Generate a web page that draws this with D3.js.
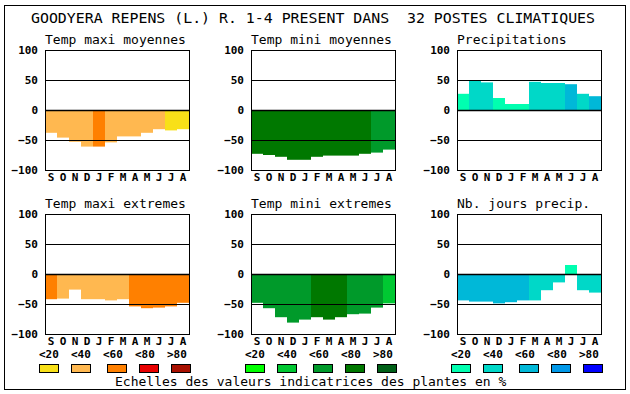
<!DOCTYPE html>
<html>
<head>
<meta charset="utf-8">
<script src="https://cdn.jsdelivr.net/npm/d3@7"></script>
<style>
  body { margin: 0; background: #fff; }
  svg text { font-family: "DejaVu Sans Mono", "Liberation Mono", monospace; fill: #000; }
  .tick text { font-size: 11px; font-weight: bold; }
</style>
</head>
<body>
<div id="chart"></div>
<script>
// month labels (Sept -> Aug)
const months = ['S','O','N','D','J','F','M','A','M','J','J','A'];
const titles = ['Temp maxi moyennes','Temp mini moyennes','Precipitations',
                'Temp maxi extremes','Temp mini extremes','Nb. jours precip.'];
const classLabels = ['<20','<40','<60','<80','>80'];

const tmaxMoy = [-38,-46,-53,-61,-61,-54,-44,-44,-38,-32,-34,-32];
const tmaxMoyCls = [1,1,1,1,2,1,1,1,1,1,0,0];
const tminMoy = [-73,-75,-78,-83,-83,-78,-76,-76,-76,-73,-71,-66];
const tminMoyCls = [3,3,3,3,3,3,3,3,3,3,2,2];
const precip = [27,49,46,20,10,10,47,45,45,43,27,23];
const precipCls = [0,1,1,0,0,0,1,1,1,2,1,2];
const tmaxExt = [-42,-41,-26,-42,-42,-44,-42,-54,-57,-56,-54,-48];
const tmaxExtCls = [2,1,1,1,1,1,1,2,2,2,2,2];
const tminExt = [-48,-57,-72,-81,-76,-72,-76,-72,-67,-66,-56,-49];
const tminExtCls = [2,2,2,2,2,3,3,3,2,2,2,1];
const nbJours = [-44,-46,-46,-49,-47,-44,-44,-27,-14,15,-27,-31];
const nbJoursCls = [2,2,2,2,2,2,1,1,1,0,1,1];

const orangeScale = ['#f8e018','#ffb850','#ff8000','#e80000','#a81000'];
const greenScale  = ['#00ff00','#00c832','#009a2a','#007800','#006018'];
const blueScale   = ['#00ffb0','#00d8c8','#00b8d8','#0098e8','#0000ff'];

const panels = [
  {vals: tmaxMoy, cls: tmaxMoyCls, pal: orangeScale},
  {vals: tminMoy, cls: tminMoyCls, pal: greenScale},
  {vals: precip,  cls: precipCls,  pal: blueScale},
  {vals: tmaxExt, cls: tmaxExtCls, pal: orangeScale},
  {vals: tminExt, cls: tminExtCls, pal: greenScale},
  {vals: nbJours, cls: nbJoursCls, pal: blueScale}
];

const W = 630, H = 394;
const colX = [45, 251, 457], rowY = [50, 214];
const pw = 144, ph = 120;

const svg = d3.select('#chart').append('svg')
  .attr('width', W).attr('height', H);

svg.append('rect')
  .attr('x', 4.5).attr('y', 5.5).attr('width', 621).attr('height', 384)
  .attr('fill', 'none').attr('stroke', '#000');

svg.append('text')
  .attr('x', 31).attr('y', 23)
  .attr('font-size', 14)
  .style('white-space', 'pre')
  .attr('textLength', 564).attr('lengthAdjust', 'spacingAndGlyphs')
  .text('GOODYERA REPENS (L.) R. 1-4 PRESENT DANS  32 POSTES CLIMATIQUES');

const x = d3.scaleBand().domain(d3.range(12)).range([0, pw]).padding(0);
const y = d3.scaleLinear().domain([-100, 100]).range([ph, 0]);

panels.forEach((p, k) => {
  const g = svg.append('g')
    .attr('transform', `translate(${colX[k % 3]},${rowY[Math.floor(k / 3)]})`);

  g.append('text')
    .attr('x', 0).attr('y', -6)
    .attr('font-size', 13)
    .text(titles[k]);

  g.selectAll('.bar')
    .data(p.vals)
    .enter()
    .append('rect')
    .attr('class', 'bar')
    .attr('x', (d, i) => x(i))
    .attr('width', x.bandwidth())
    .attr('y', d => y(Math.max(0, d)))
    .attr('height', d => Math.abs(y(d) - y(0)))
    .attr('fill', (d, i) => p.pal[p.cls[i]]);

  // grid lines drawn over the bars
  g.selectAll('.grid')
    .data([50, 0, -50])
    .enter()
    .append('line')
    .attr('x1', 0).attr('x2', pw)
    .attr('y1', d => Math.round(y(d)) + 0.5)
    .attr('y2', d => Math.round(y(d)) + 0.5)
    .attr('stroke', '#000')
    .attr('stroke-width', d => d === 0 ? 1.5 : 1);

  g.append('rect')
    .attr('x', 0.5).attr('y', 0.5).attr('width', pw).attr('height', ph)
    .attr('fill', 'none').attr('stroke', '#000');

  const ya = g.append('g')
    .call(d3.axisLeft(y).tickValues([-100, -50, 0, 50, 100]).tickSize(0).tickPadding(7));
  ya.select('.domain').remove();
  ya.selectAll('text').attr('dy', '0.36em');

  const xa = g.append('g')
    .attr('transform', `translate(0,${ph})`)
    .call(d3.axisBottom(x).tickFormat(i => months[i]).tickSize(0).tickPadding(3));
  xa.select('.domain').remove();
});

// legends under the bottom row
const legendPals = [orangeScale, greenScale, blueScale];
const boxOff = [0, 32, 68, 100, 132];
legendPals.forEach((pal, c) => {
  const x0 = colX[c] - 6;
  const lg = svg.append('g').attr('transform', `translate(${x0},0)`);
  lg.selectAll('.lab')
    .data(classLabels)
    .enter()
    .append('text')
    .attr('x', (d, i) => i * 32)
    .attr('y', 358)
    .attr('font-size', 11)
    .attr('font-weight', 'bold')
    .text(d => d);
  lg.selectAll('.box')
    .data(pal)
    .enter()
    .append('rect')
    .attr('x', (d, i) => boxOff[i] + 0.5)
    .attr('y', 364.5)
    .attr('width', 19).attr('height', 8)
    .attr('fill', d => d)
    .attr('stroke', '#000');
});

svg.append('text')
  .attr('x', 115).attr('y', 386)
  .attr('font-size', 13)
  .text('Echelles des valeurs indicatrices des plantes en %');
</script>
</body>
</html>
